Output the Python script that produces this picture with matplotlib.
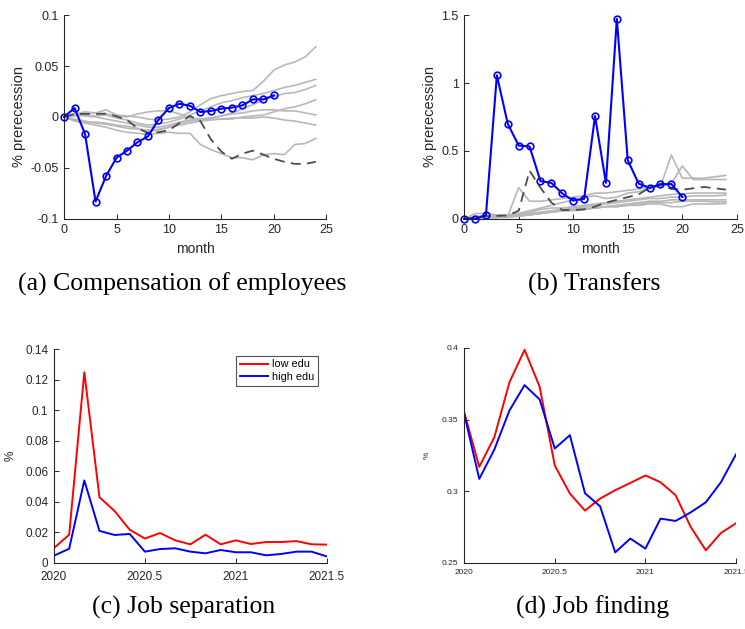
import matplotlib
matplotlib.use("Agg")
import matplotlib.pyplot as plt
import numpy as np

plt.rcParams['font.family'] = ['Liberation Sans', 'DejaVu Sans']

# ---- panel (a): compensation of employees ----
months = np.arange(0, 25)
comp_blue = [0, 0.0088, -0.0167, -0.083, -0.058, -0.040, -0.033, -0.0248, -0.019,
             -0.0026, 0.0088, 0.013, 0.011, 0.0049, 0.0059, 0.0082, 0.0092, 0.0114,
             0.0173, 0.0173, 0.0212]
comp_dash = [0, 0.003, 0.003, 0.003, 0.0033, 0.0007, -0.003, -0.011, -0.0157, -0.015,
             -0.013, -0.006, 0.001, -0.004, -0.022, -0.034, -0.041, -0.036, -0.033,
             -0.037, -0.041, -0.044, -0.046, -0.046, -0.044]
comp_gray = [
    [0, 0.002, 0.004, 0.004, 0.007, 0.002, 0.001, 0.0, -0.002, -0.003, -0.002, 0.0,
     0.005, 0.012, 0.018, 0.021, 0.023, 0.025, 0.026, 0.035, 0.046, 0.051, 0.054, 0.059, 0.069],
    [0, 0.001, 0.002, 0.001, 0.002, -0.001, -0.003, -0.006, -0.008, -0.007, -0.005, -0.002,
     0.002, 0.006, 0.010, 0.014, 0.016, 0.019, 0.021, 0.023, 0.026, 0.029, 0.031, 0.034, 0.037],
    [0, 0.003, 0.005, 0.004, 0.003, 0.001, 0.0, 0.003, 0.005, 0.006, 0.006, 0.003, -0.001,
     -0.002, -0.001, 0.001, 0.004, 0.008, 0.012, 0.017, 0.020, 0.023, 0.024, 0.027, 0.031],
    [0, -0.002, -0.004, -0.006, -0.007, -0.009, -0.011, -0.012, -0.013, -0.012, -0.010, -0.008,
     -0.006, -0.004, -0.003, -0.002, -0.002, 0.0, 0.001, 0.002, 0.005, 0.008, 0.010, 0.013, 0.017],
    [0, 0.002, 0.001, 0.0, -0.002, -0.004, -0.006, -0.008, -0.010, -0.010, -0.008, -0.005,
     -0.003, -0.002, -0.001, 0.001, 0.003, 0.004, 0.006, 0.007, 0.007, 0.006, 0.006, 0.004, 0.002],
    [0, -0.003, -0.005, -0.005, -0.006, -0.008, -0.009, -0.011, -0.014, -0.013, -0.010, -0.006,
     -0.004, -0.003, -0.002, -0.002, -0.001, -0.001, -0.001, 0.0, -0.001, -0.003, -0.004, -0.006, -0.008],
    [0, -0.004, -0.006, -0.008, -0.010, -0.013, -0.015, -0.016, -0.017, -0.016, -0.015, -0.016,
     -0.016, -0.027, -0.032, -0.036, -0.040, -0.040, -0.042, -0.037, -0.036, -0.037, -0.027, -0.026, -0.021],
]
comp_yticks = [-0.1, -0.05, 0, 0.05, 0.1]
comp_yticklabels = ['-0.1', '-0.05', '0', '0.05', '0.1']

# ---- panel (b): transfers ----
trans_blue = [0, 0, 0.028, 1.057, 0.70, 0.54, 0.533, 0.278, 0.265, 0.187, 0.135, 0.147,
              0.757, 0.265, 1.472, 0.432, 0.26, 0.228, 0.256, 0.256, 0.162]
trans_dash = [0, 0.01, 0.02, 0.022, 0.025, 0.06, 0.354, 0.23, 0.12, 0.065, 0.065, 0.07,
              0.09, 0.12, 0.14, 0.16, 0.18, 0.23, 0.25, 0.22, 0.215, 0.225, 0.235, 0.225, 0.215]
trans_gray = [
    [0, 0.01, 0.01, 0.01, 0.02, 0.23, 0.13, 0.13, 0.14, 0.15, 0.16, 0.17, 0.19, 0.19, 0.2,
     0.21, 0.22, 0.23, 0.24, 0.47, 0.3, 0.3, 0.3, 0.31, 0.32],
    [0, 0.04, 0.04, 0.03, 0.03, 0.04, 0.06, 0.08, 0.1, 0.12, 0.14, 0.16, 0.17, 0.15, 0.16,
     0.19, 0.2, 0.22, 0.24, 0.26, 0.39, 0.29, 0.29, 0.29, 0.29],
    [0, 0.02, 0.02, 0.02, 0.02, 0.03, 0.05, 0.07, 0.08, 0.08, 0.09, 0.1, 0.11, 0.12, 0.13,
     0.14, 0.15, 0.16, 0.17, 0.18, 0.185, 0.19, 0.19, 0.19, 0.19],
    [0, 0.01, 0.02, 0.02, 0.02, 0.03, 0.04, 0.05, 0.06, 0.07, 0.08, 0.09, 0.1, 0.11, 0.12,
     0.13, 0.14, 0.15, 0.15, 0.16, 0.16, 0.17, 0.17, 0.17, 0.175],
    [0, 0.01, 0.01, 0.02, 0.02, 0.02, 0.03, 0.04, 0.05, 0.06, 0.07, 0.08, 0.08, 0.09, 0.1,
     0.11, 0.12, 0.13, 0.13, 0.14, 0.14, 0.14, 0.14, 0.14, 0.14],
    [0, 0.01, 0.01, 0.01, 0.02, 0.02, 0.03, 0.04, 0.05, 0.06, 0.06, 0.07, 0.08, 0.09, 0.09,
     0.1, 0.11, 0.12, 0.12, 0.12, 0.13, 0.13, 0.13, 0.125, 0.125],
    [0, 0.0, 0.01, 0.01, 0.01, 0.02, 0.03, 0.04, 0.05, 0.06, 0.07, 0.07, 0.08, 0.09, 0.09,
     0.1, 0.1, 0.11, 0.11, 0.09, 0.09, 0.11, 0.11, 0.11, 0.113],
]
trans_yticks = [0, 0.5, 1, 1.5]
trans_yticklabels = ['0', '0.5', '1', '1.5']

# ---- panels (c), (d): monthly 2020 - mid 2021 ----
dates = 2020 + np.arange(19) / 12
sep_low = [0.0098, 0.0185, 0.1248, 0.043, 0.034, 0.0217, 0.016, 0.0196, 0.0148, 0.0122,
           0.0185, 0.0122, 0.0148, 0.0124, 0.0137, 0.0137, 0.0143, 0.0122, 0.012]
sep_high = [0.0048, 0.0093, 0.054, 0.021, 0.0183, 0.019, 0.0074, 0.0091, 0.0096, 0.0074,
            0.0063, 0.0085, 0.007, 0.007, 0.005, 0.0059, 0.0074, 0.0074, 0.0043]
find_low = [0.3553, 0.317, 0.3377, 0.376, 0.3986, 0.3728, 0.318, 0.2984, 0.2865, 0.2949,
            0.3007, 0.3058, 0.311, 0.3063, 0.2972, 0.2751, 0.2588, 0.2709, 0.2777]
find_high = [0.3542, 0.3086, 0.3291, 0.3563, 0.374, 0.364, 0.3298, 0.3391, 0.2986, 0.2895,
             0.2574, 0.267, 0.26, 0.2809, 0.2793, 0.2853, 0.2923, 0.3063, 0.3258]
date_ticks = [2020, 2020.5, 2021, 2021.5]
date_ticklabels = ['2020', '2020.5', '2021', '2021.5']
sep_yticks = [0, 0.02, 0.04, 0.06, 0.08, 0.1, 0.12, 0.14]
sep_yticklabels = ['0', '0.02', '0.04', '0.06', '0.08', '0.1', '0.12', '0.14']
find_yticks = [0.25, 0.3, 0.35, 0.4]
find_yticklabels = ['0.25', '0.3', '0.35', '0.4']

captions = ['(a) Compensation of employees', '(b) Transfers',
            '(c) Job separation', '(d) Job finding']

axcol = (0.15, 0.15, 0.15)
gray = (0.72, 0.72, 0.72)
dark = (0.3, 0.3, 0.3)


def style(ax, fs, xpad=4):
    for s in ['top', 'right']:
        ax.spines[s].set_visible(False)
    for s in ['left', 'bottom']:
        ax.spines[s].set_color(axcol)
        ax.spines[s].set_linewidth(0.8)
    ax.tick_params(direction='in', length=3.5, width=0.7, colors=axcol,
                   labelsize=fs, pad=4)
    ax.tick_params(axis='x', pad=xpad)


fig = plt.figure(figsize=(7.45, 6.29), dpi=100)

# (a)
ax1 = fig.add_axes([0.086, 0.652, 0.352, 0.324])
for g in comp_gray:
    ax1.plot(months, g, color=gray, lw=1.2)
ax1.plot(months, comp_dash, color=dark, lw=1.3, ls=(0, (5.5, 3.5)))
ax1.plot(months[:len(comp_blue)], comp_blue, color='#0000ff', lw=1.5, marker='o',
         ms=4.8, mfc='none', mew=1.2, clip_on=False)
ax1.set_xlim(0, 25)
ax1.set_ylim(-0.1, 0.1)
ax1.set_xticks([0, 5, 10, 15, 20, 25])
ax1.set_yticks(comp_yticks)
ax1.set_yticklabels(comp_yticklabels)
ax1.set_xlabel('month', fontsize=10, color=axcol, labelpad=4)
ax1.set_ylabel('% prerecession', fontsize=10.5, color=axcol, labelpad=3)
style(ax1, 9)

# (b)
ax2 = fig.add_axes([0.623, 0.652, 0.366, 0.324])
for g in trans_gray:
    ax2.plot(months, g, color=gray, lw=1.2)
ax2.plot(months, trans_dash, color=dark, lw=1.3, ls=(0, (5.5, 3.5)))
ax2.plot(months[:len(trans_blue)], trans_blue, color='#0000ff', lw=1.5, marker='o',
         ms=4.8, mfc='none', mew=1.2, clip_on=False)
ax2.set_xlim(0, 25)
ax2.set_ylim(0, 1.5)
ax2.set_xticks([0, 5, 10, 15, 20, 25])
ax2.set_yticks(trans_yticks)
ax2.set_yticklabels(trans_yticklabels)
ax2.set_xlabel('month', fontsize=10, color=axcol, labelpad=4)
ax2.set_ylabel('% prerecession', fontsize=10.5, color=axcol, labelpad=3)
style(ax2, 9)

# (c)
ax3 = fig.add_axes([0.0725, 0.105, 0.366, 0.340])
ax3.plot(dates, sep_low, color='#ff0000', lw=1.4, label='low edu')
ax3.plot(dates, sep_high, color='#0000ff', lw=1.4, label='high edu')
ax3.set_xlim(2020, 2021.5)
ax3.set_ylim(0, 0.14)
ax3.set_xticks(date_ticks)
ax3.set_xticklabels(date_ticklabels)
ax3.set_yticks(sep_yticks)
ax3.set_yticklabels(sep_yticklabels)
ax3.set_ylabel('%', fontsize=8.5, color=axcol, labelpad=6)
style(ax3, 8.5, xpad=6)
leg = ax3.legend(loc='upper right', fontsize=7.8, frameon=True, fancybox=False,
                 borderaxespad=0.4, handlelength=2.6, handletextpad=0.4,
                 borderpad=0.35, labelspacing=0.25, bbox_to_anchor=(0.985, 0.99))
leg.get_frame().set_edgecolor(axcol)
leg.get_frame().set_linewidth(0.8)

# (d)
ax4 = fig.add_axes([0.623, 0.105, 0.365, 0.342])
ax4.plot(dates, find_low, color='#ff0000', lw=1.4)
ax4.plot(dates, find_high, color='#0000ff', lw=1.4)
ax4.set_xlim(2020, 2021.5)
ax4.set_ylim(0.25, 0.4)
ax4.set_xticks(date_ticks)
ax4.set_xticklabels(date_ticklabels)
ax4.set_yticks(find_yticks)
ax4.set_yticklabels(find_yticklabels)
ax4.set_ylabel('%', fontsize=6, color=axcol, labelpad=8)
style(ax4, 6)

cap_pos = [(0.245, 0.548), (0.797, 0.548), (0.246, 0.035), (0.796, 0.035)]
for (cx, cy), txt in zip(cap_pos, captions):
    fig.text(cx, cy, txt, ha='center', va='center', fontsize=18.5,
             family=['Liberation Serif', 'DejaVu Serif'])

fig.savefig('out.png', dpi=100)
